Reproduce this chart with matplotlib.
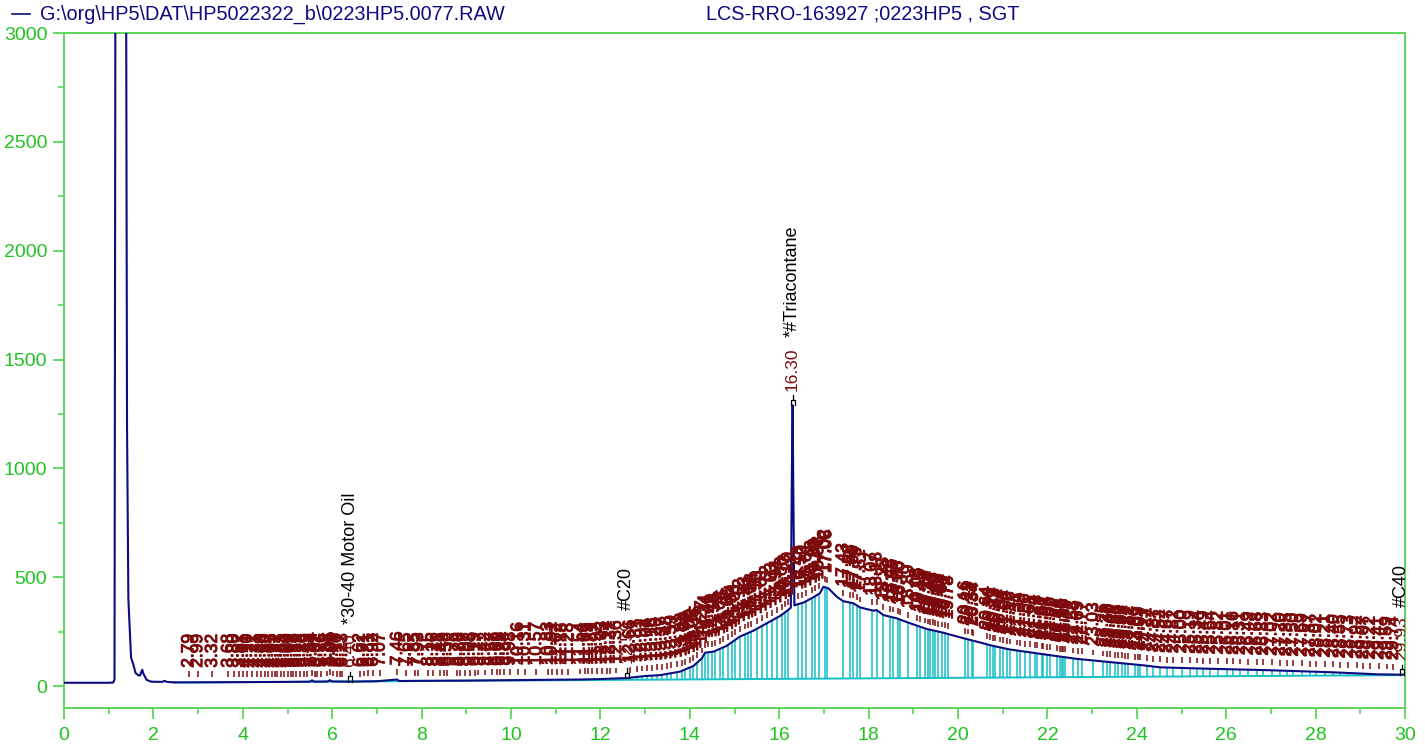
import numpy as np
import matplotlib.pyplot as plt
import matplotlib.patheffects as pe
from matplotlib.lines import Line2D
from matplotlib.ticker import MultipleLocator

plt.rcParams['font.family'] = ['Liberation Sans', 'DejaVu Sans']

# detector trace (min, counts)
trace_t = [0.0, 0.5, 1.0, 1.10, 1.13, 1.15, 1.20, 1.33, 1.39, 1.41, 1.44, 1.50,
           1.55, 1.60, 1.66, 1.70, 1.75, 1.78, 1.85, 1.95, 2.2, 2.25, 2.3, 2.45,
           3.0, 4.0, 5.0, 5.5, 5.55, 5.6, 5.9, 5.95, 6.0, 6.4, 7.0, 7.45, 7.5,
           8.0, 9.0, 9.5, 10.0, 10.5, 11.0, 11.5, 12.0, 12.6, 13.0, 13.33, 13.78,
           14.08, 14.27, 14.34, 14.53, 14.82, 15.12, 15.42, 15.72, 16.02, 16.2,
           16.26, 16.28, 16.30, 16.32, 16.34, 16.35, 16.54, 16.76, 16.91, 16.99,
           17.1, 17.29, 17.43, 17.66, 17.81, 18.11, 18.18, 18.33, 18.63, 18.89,
           19.3, 19.67, 20.04, 20.42, 20.79, 21.16, 21.91, 22.65, 23.4, 24.15,
           24.52, 25.5, 26.9, 28.4, 29.37, 30.0]
trace_y = [15, 15, 15, 16, 30, 3200, 9000, 9000, 3200, 1200, 400, 130,
           100, 60, 50, 48, 75, 55, 28, 20, 19, 24, 19, 17,
           17, 18, 19, 20, 26, 20, 21, 27, 21, 20, 22, 30, 23,
           24, 25, 26, 27, 28, 29, 30, 32, 37, 46, 50, 66,
           92, 127, 153, 158, 184, 227, 254, 288, 322, 349,
           360, 900, 1290, 800, 370, 372, 383, 407, 426, 456,
           449, 410, 390, 380, 361, 346, 349, 326, 311, 291,
           262, 245, 224, 204, 184, 168, 146, 125, 110, 95,
           86, 80, 73, 63, 54, 52]

# integration baseline
base_t = [2.45, 29.9]
base_y = [16, 50]

# integrated peaks (retention times, min)
peak_rt = [2.79, 2.99, 3.32, 3.68, 3.80, 3.92, 4.01, 4.10, 4.21, 4.31, 4.40,
           4.50, 4.57, 4.65, 4.72, 4.77, 4.85, 4.92, 5.00, 5.07, 5.13, 5.19,
           5.28, 5.36, 5.43, 5.54, 5.62, 5.67, 5.76, 5.88, 5.95, 6.02, 6.10,
           6.17, 6.23, 6.62, 6.71, 6.81, 6.92, 7.07, 7.46, 7.65,
           7.85, 7.93, 8.15, 8.26, 8.41, 8.49, 8.56, 8.79, 8.86, 8.97, 9.08,
           9.19, 9.27, 9.42, 9.57, 9.69, 9.75, 9.84, 9.98, 10.16, 10.31, 10.57,
           10.83, 10.91, 11.02, 11.13, 11.28, 11.54, 11.66, 11.73, 11.81, 11.92,
           12.03, 12.14, 12.21, 12.36, 12.66, 12.81, 12.92, 13.04, 13.16, 13.26,
           13.37, 13.48, 13.59, 13.71, 13.82, 13.89, 14.00, 14.08, 14.15, 14.27,
           14.34, 14.41, 14.49, 14.56, 14.68, 14.75, 14.86, 14.94, 15.01, 15.12,
           15.23, 15.31, 15.38, 15.50, 15.61, 15.72, 15.83, 15.94, 16.06, 16.13,
           16.20, 16.43, 16.50, 16.61, 16.73, 16.80, 16.88, 17.02, 17.06, 17.43,
           17.58, 17.66, 17.73, 17.81, 18.07, 18.18, 18.33, 18.48, 18.55, 18.66,
           18.70, 18.89, 19.08, 19.15, 19.26, 19.34, 19.37, 19.43, 19.49, 19.56,
           19.64, 19.71, 19.78, 20.16, 20.23, 20.31, 20.34, 20.64, 20.72, 20.79,
           20.83, 20.94, 21.01, 21.09, 21.16, 21.31, 21.39, 21.50, 21.61, 21.72,
           21.76, 21.87, 21.91, 21.98, 22.06, 22.21, 22.28, 22.32, 22.36, 22.39,
           22.58, 22.69, 22.77, 23.03, 23.25, 23.33, 23.40, 23.51, 23.59, 23.66,
           23.74, 23.81, 23.96, 24.03, 24.07, 24.22, 24.37, 24.52, 24.67, 24.82,
           25.00, 25.19, 25.34, 25.49, 25.64, 25.82, 26.01, 26.16, 26.31, 26.49,
           26.68, 26.83, 27.02, 27.20, 27.35, 27.50, 27.69, 27.87, 28.02, 28.21,
           28.40, 28.55, 28.73, 28.92, 29.07, 29.22, 29.41, 29.59, 29.74]

# identified peaks
named_rt = [6.40, 12.59, 16.30, 29.93]
named_txt = ['*30-40 Motor Oil', '#C20', '*#Triacontane', '#C40']

navy = '#0c0c80'
dred = '#7d0a0a'
cyan = '#14c0c6'
green = '#5ad65a'
tgreen = '#1fc31f'

fig = plt.figure(figsize=(14.25, 7.47), dpi=100)
ax = fig.add_axes([64 / 1425, 1 - 707.8 / 747, 1341 / 1425, 674.8 / 747])

rt = np.array(peak_rt)
sig = np.interp(rt, trace_t, trace_y)
base = np.interp(rt, base_t, base_y)

ax.vlines(rt, base, np.maximum(sig, base), colors=cyan, lw=1.1, zorder=1)
ax.plot(base_t, base_y, color=cyan, lw=1.4, zorder=1)
ax.plot(trace_t, trace_y, color=navy, lw=1.5, zorder=3)

heavy = [pe.withStroke(linewidth=0.7, foreground=dred)]

ax.vlines(rt, sig + 23, sig + 50, colors=dred, lw=1.1, zorder=2)
for t, s in zip(rt, sig):
    lab = ax.annotate(f'{t:.2f}', xy=(t, s), xytext=(0, 10.5), textcoords='offset points',
                      rotation=90, ha='center', va='bottom', color=dred, fontsize=12.5,
                      zorder=4, path_effects=heavy)
    lab.set_clip_path(ax.patch)

# identified peaks: marker, retention time and name
nrt = np.array(named_rt)
nsig = np.interp(nrt, trace_t, trace_y)
for t, s, name in zip(nrt, nsig, named_txt):
    d = 0.045
    ax.plot([t - d, t - d, t + d, t + d], [s, s + 25, s + 25, s], color='black', lw=0.9, zorder=5)
    ax.plot([t, t], [s + 25, s + 45], color='black', lw=0.9, zorder=5)
    lab = ax.annotate(f'{t:.2f}', xy=(t, s), xytext=(0, 10.5), textcoords='offset points',
                      rotation=90, ha='center', va='bottom', color=dred, fontsize=12.5,
                      zorder=4)
    lab.set_clip_path(ax.patch)
    nm = ax.annotate(name, xy=(0.5, 1), xycoords=lab, xytext=(0, 7), textcoords='offset points',
                     rotation=90, ha='center', va='bottom', color='black', fontsize=13,
                     zorder=6)
    nm.set_clip_path(ax.patch)

ax.set_xlim(0, 30)
ax.set_ylim(-100, 3000)
ax.xaxis.set_major_locator(MultipleLocator(2))
ax.xaxis.set_minor_locator(MultipleLocator(1))
ax.yaxis.set_major_locator(MultipleLocator(500))
ax.yaxis.set_minor_locator(MultipleLocator(250))
for sp in ax.spines.values():
    sp.set_color(green)
    sp.set_linewidth(1.4)
ax.tick_params(which='major', length=8, width=1.3, color=green, labelcolor=tgreen,
               labelsize=14)
ax.tick_params(which='minor', length=4, width=1.2, color=green)
ax.tick_params(axis='x', which='major', pad=6)
ax.tick_params(axis='y', which='major', pad=4)

# header
fig.add_artist(Line2D([12 / 1425, 30 / 1425], [1 - 14 / 747] * 2, color=navy, lw=1.2))
fig.text(40 / 1425, 1 - 14 / 747, 'G:\\org\\HP5\\DAT\\HP5022322_b\\0223HP5.0077.RAW',
         va='center', ha='left', fontsize=14.3, color=navy)
fig.text(706 / 1425, 1 - 14 / 747, 'LCS-RRO-163927 ;0223HP5 , SGT',
         va='center', ha='left', fontsize=14.3, color=navy)

fig.savefig('out.png', dpi=100)
